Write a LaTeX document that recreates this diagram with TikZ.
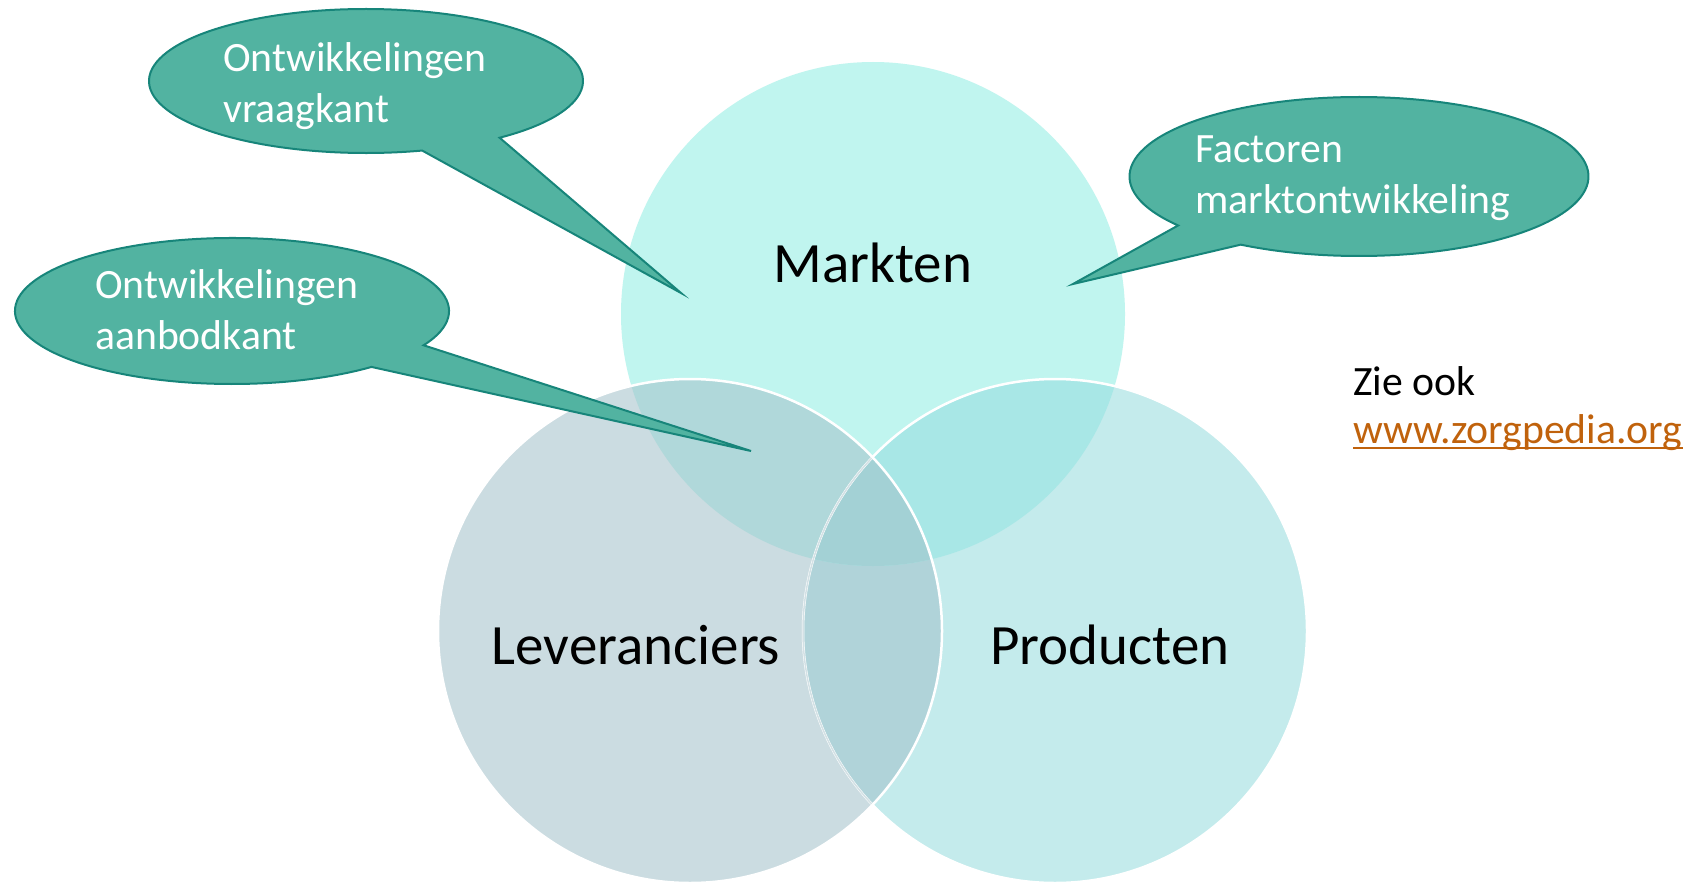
\documentclass[tikz,border=0pt]{standalone}
\usepackage{fontspec}
\setmainfont{Carlito}
\definecolor{cM}{HTML}{C0F5EF}
\definecolor{cL}{HTML}{CBDCE1}
\definecolor{cP}{HTML}{C4EBEC}
\definecolor{cML}{HTML}{B0D8DA}
\definecolor{cMP}{HTML}{A8E7E6}
\definecolor{cLP}{HTML}{B0D3D9}
\definecolor{cMLP}{HTML}{A3D1D5}
\definecolor{calloutfill}{HTML}{52B3A1}
\definecolor{calloutline}{HTML}{17857A}
\definecolor{linkcol}{HTML}{C0620C}
\tikzset{
  callout/.style={fill=calloutfill, draw=calloutline, line width=2pt, line join=miter},
  callouttext/.style={anchor=base west, inner sep=0pt, text=white, font=\fontsize{41.7}{51}\selectfont},
  circlelabel/.style={anchor=base, inner sep=0pt, text=black, font=\fontsize{57}{68}\selectfont},
  plaintext/.style={anchor=base west, inner sep=0pt, font=\fontsize{41.7}{51}\selectfont},
}
\begin{document}
\begin{tikzpicture}[x=1pt,y=-1pt]
\useasboundingbox (0,0) rectangle (1695,883);
\fill[white] (0,0) rectangle (1695,883);
\def\R{252}
\coordinate (M) at (873,314);
\coordinate (L) at (690,631);
\coordinate (P) at (1055,631);
% solo fills
\fill[cM] (M) circle[radius=\R];
\fill[cP] (P) circle[radius=\R];
\fill[cL] (L) circle[radius=\R];
% pairwise overlaps
\begin{scope}
  \clip (L) circle[radius=\R];
  \fill[cLP] (P) circle[radius=\R];
\end{scope}
\begin{scope}
  \clip (M) circle[radius=\R];
  \fill[cML] (L) circle[radius=\R];
  \fill[cMP] (P) circle[radius=\R];
  \clip (L) circle[radius=\R];
  \fill[cMLP] (P) circle[radius=\R];
\end{scope}
% outlines
\draw[white, line width=2.5pt] (P) circle[radius=\R];
\begin{scope}
  \clip (L) circle[radius=\R];
  \draw[cL!85!white, line width=1.5pt] (P) circle[radius=\R];
\end{scope}
\draw[white, line width=2.5pt] (L) circle[radius=\R];
% circle labels
\node[circlelabel] (markten) at (873,282) {Markten};
\node[circlelabel] (lev) at (636,664) {Leveranciers};
\node[circlelabel] (prod) at (1110,664) {Producten};
% callout 1: vraagkant
\coordinate (c1) at (366,81);
\coordinate (tip1) at (681,293);
\path[callout] (c1) ++(52:217 and 72) arc[start angle=52, end angle=-285, x radius=217, y radius=72] -- (tip1) -- cycle;
\node[callouttext] (vraag) at (223,72) {\vtop{\hbox{Ontwikkelingen}\hbox{vraagkant}}};
% callout 2: aanbodkant
\coordinate (c2) at (232,311);
\coordinate (tip2) at (751,451);
\path[callout] (c2) ++(28:217 and 73) arc[start angle=28, end angle=-310, x radius=217, y radius=73] -- (tip2) -- cycle;
\node[callouttext] (aanbod) at (95,298) {\vtop{\hbox{Ontwikkelingen}\hbox{aanbodkant}}};
% callout 3: factoren
\coordinate (c3) at (1359,176.5);
\coordinate (tip3) at (1073,284);
\path[callout] (c3) ++(142:229.5 and 79.5) arc[start angle=142, end angle=481, x radius=229.5, y radius=79.5] -- (tip3) -- cycle;
\node[callouttext] (factoren) at (1195,162) {\vtop{\hbox{Factoren}\hbox{marktontwikkeling}}};
% see also
\node[plaintext] (zie) at (1353,395) {Zie ook};
\node[plaintext, text=linkcol] (link) at (1353,443) {www.zorgpedia.org};
\draw[linkcol, line width=2.5pt] ([yshift=-5pt]link.base west) -- ([yshift=-5pt]link.base east);
\end{tikzpicture}
\end{document}
